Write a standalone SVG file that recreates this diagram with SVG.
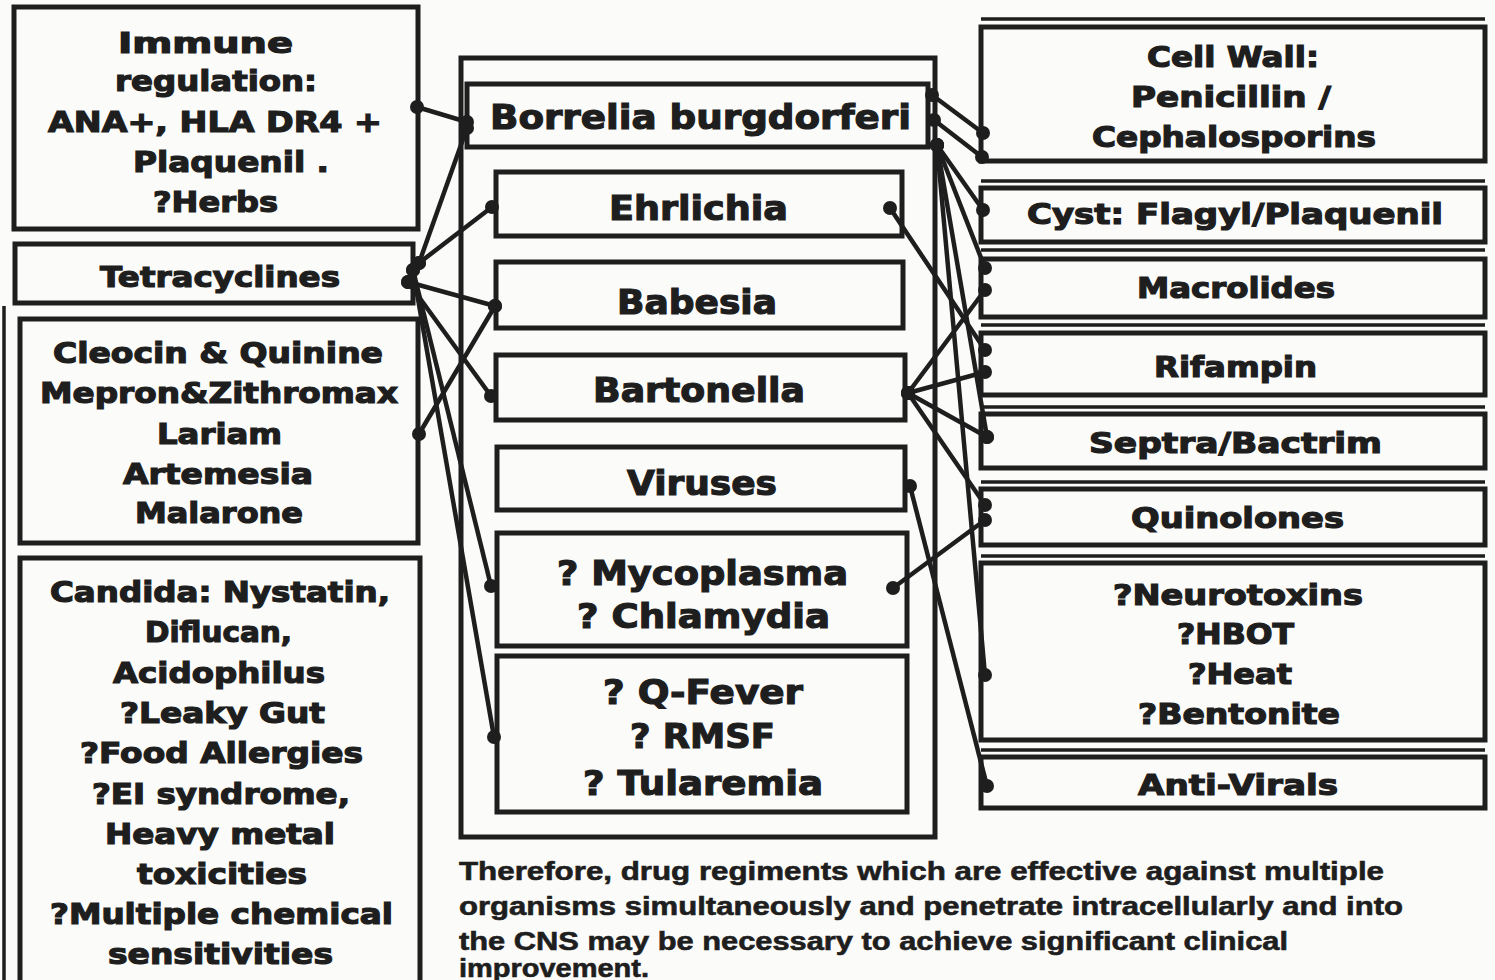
<svg xmlns="http://www.w3.org/2000/svg" width="1495" height="980" viewBox="0 0 1495 980">
<style>
.bg{fill:#fbfbf9}
.box{fill:none;stroke:#1e1e1e;stroke-width:5}
.sh{stroke:#1e1e1e;stroke-width:3.5}
.t{font-family:"DejaVu Sans","Liberation Sans",sans-serif;font-weight:bold;font-size:28px;fill:#1e1e1e;stroke:#1e1e1e;stroke-width:1.2}
.c{font-size:34px}
.p{font-family:"Liberation Sans",Arial,sans-serif;font-weight:bold;font-size:25px;fill:#1e1e1e;stroke:#1e1e1e;stroke-width:0.6}
.cn{stroke:#1e1e1e;stroke-width:4.5;fill:none;marker-start:url(#dot);marker-end:url(#dot)}
</style>
<defs>
<marker id="dot" markerUnits="userSpaceOnUse" markerWidth="16" markerHeight="16" refX="8" refY="8" viewBox="0 0 16 16"><circle cx="8" cy="8" r="7" fill="#1e1e1e"/></marker>
</defs>
<rect class="bg" x="0" y="0" width="1495" height="980"/>
<line class="sh" x1="4" y1="306" x2="4" y2="980"/>

<!-- Left column -->
<g id="immune">
<rect class="box" x="14" y="7" width="404" height="222"/>
<text class="t" x="118" y="53" textLength="175" lengthAdjust="spacingAndGlyphs">Immune</text>
<text class="t" x="115" y="91" textLength="202" lengthAdjust="spacingAndGlyphs">regulation:</text>
<text class="t" x="48" y="132" textLength="334" lengthAdjust="spacingAndGlyphs">ANA+, HLA DR4 +</text>
<text class="t" x="133" y="172" textLength="196" lengthAdjust="spacingAndGlyphs">Plaquenil  .</text>
<text class="t" x="153" y="212" textLength="125" lengthAdjust="spacingAndGlyphs">?Herbs</text>
</g>
<g id="tetracyclines">
<rect class="box" x="15" y="244" width="398" height="59"/>
<text class="t" x="100" y="287" textLength="240" lengthAdjust="spacingAndGlyphs">Tetracyclines</text>
</g>
<g id="cleocin">
<rect class="box" x="20" y="319" width="398" height="224"/>
<text class="t" x="53" y="363" textLength="330" lengthAdjust="spacingAndGlyphs">Cleocin &amp; Quinine</text>
<text class="t" x="40" y="403" textLength="358" lengthAdjust="spacingAndGlyphs">Mepron&amp;Zithromax</text>
<text class="t" x="157" y="444" textLength="125" lengthAdjust="spacingAndGlyphs">Lariam</text>
<text class="t" x="123" y="484" textLength="190" lengthAdjust="spacingAndGlyphs">Artemesia</text>
<text class="t" x="135" y="523" textLength="168" lengthAdjust="spacingAndGlyphs">Malarone</text>
</g>
<g id="candida">
<rect class="box" x="20" y="558" width="400" height="450"/>
<text class="t" x="50" y="602" textLength="340" lengthAdjust="spacingAndGlyphs">Candida: Nystatin,</text>
<text class="t" x="145" y="642" textLength="147" lengthAdjust="spacingAndGlyphs">Diflucan,</text>
<text class="t" x="113" y="683" textLength="212" lengthAdjust="spacingAndGlyphs">Acidophilus</text>
<text class="t" x="120" y="723" textLength="205" lengthAdjust="spacingAndGlyphs">?Leaky Gut</text>
<text class="t" x="80" y="763" textLength="283" lengthAdjust="spacingAndGlyphs">?Food Allergies</text>
<text class="t" x="92" y="804" textLength="258" lengthAdjust="spacingAndGlyphs">?EI syndrome,</text>
<text class="t" x="105" y="844" textLength="230" lengthAdjust="spacingAndGlyphs">Heavy metal</text>
<text class="t" x="137" y="884" textLength="170" lengthAdjust="spacingAndGlyphs">toxicities</text>
<text class="t" x="50" y="924" textLength="343" lengthAdjust="spacingAndGlyphs">?Multiple chemical</text>
<text class="t" x="108" y="964" textLength="225" lengthAdjust="spacingAndGlyphs">sensitivities</text>
</g>

<!-- Center column -->
<g id="organisms-frame">
<rect class="box" x="461" y="58" width="474" height="779"/>
</g>
<g id="borrelia">
<rect class="box" x="467" y="84" width="461" height="63"/>
<text class="t c" x="490" y="129" textLength="421" lengthAdjust="spacingAndGlyphs">Borrelia burgdorferi</text>
</g>
<g id="ehrlichia">
<rect class="box" x="496" y="172" width="406" height="64"/>
<text class="t c" x="609" y="220" textLength="179" lengthAdjust="spacingAndGlyphs">Ehrlichia</text>
</g>
<g id="babesia">
<rect class="box" x="496" y="262" width="407" height="66"/>
<text class="t c" x="617" y="314" textLength="160" lengthAdjust="spacingAndGlyphs">Babesia</text>
</g>
<g id="bartonella">
<rect class="box" x="496" y="355" width="409" height="65"/>
<text class="t c" x="593" y="402" textLength="212" lengthAdjust="spacingAndGlyphs">Bartonella</text>
</g>
<g id="viruses">
<rect class="box" x="497" y="447" width="408" height="63"/>
<text class="t c" x="627" y="495" textLength="150" lengthAdjust="spacingAndGlyphs">Viruses</text>
</g>
<g id="mycoplasma">
<rect class="box" x="497" y="533" width="410" height="113"/>
<text class="t c" x="557" y="585" textLength="291" lengthAdjust="spacingAndGlyphs">? Mycoplasma</text>
<text class="t c" x="577" y="628" textLength="253" lengthAdjust="spacingAndGlyphs">? Chlamydia</text>
</g>
<g id="qfever">
<rect class="box" x="497" y="656" width="410" height="156"/>
<text class="t c" x="603" y="704" textLength="200" lengthAdjust="spacingAndGlyphs">? Q-Fever</text>
<text class="t c" x="630" y="748" textLength="145" lengthAdjust="spacingAndGlyphs">? RMSF</text>
<text class="t c" x="583" y="795" textLength="240" lengthAdjust="spacingAndGlyphs">? Tularemia</text>
</g>

<!-- Right column -->
<g id="cellwall">
<line class="sh" x1="981" y1="19" x2="1485" y2="19"/>
<rect class="box" x="981" y="27" width="504" height="134"/>
<text class="t" x="1147" y="67" textLength="172" lengthAdjust="spacingAndGlyphs">Cell Wall:</text>
<text class="t" x="1131" y="107" textLength="200" lengthAdjust="spacingAndGlyphs">Penicillin /</text>
<text class="t" x="1092" y="147" textLength="284" lengthAdjust="spacingAndGlyphs">Cephalosporins</text>
</g>
<g id="cyst">
<line class="sh" x1="981" y1="181" x2="1485" y2="181"/>
<rect class="box" x="981" y="188" width="504" height="54"/>
<text class="t" x="1027" y="224" textLength="416" lengthAdjust="spacingAndGlyphs">Cyst: Flagyl/Plaquenil</text>
</g>
<g id="macrolides">
<line class="sh" x1="981" y1="250" x2="1485" y2="250"/>
<rect class="box" x="981" y="259" width="504" height="58"/>
<text class="t" x="1137" y="298" textLength="198" lengthAdjust="spacingAndGlyphs">Macrolides</text>
</g>
<g id="rifampin">
<line class="sh" x1="981" y1="325" x2="1485" y2="325"/>
<rect class="box" x="981" y="333" width="504" height="62"/>
<text class="t" x="1154" y="377" textLength="163" lengthAdjust="spacingAndGlyphs">Rifampin</text>
</g>
<g id="septra">
<line class="sh" x1="981" y1="407" x2="1485" y2="407"/>
<rect class="box" x="981" y="414" width="504" height="54"/>
<text class="t" x="1089" y="453" textLength="293" lengthAdjust="spacingAndGlyphs">Septra/Bactrim</text>
</g>
<g id="quinolones">
<line class="sh" x1="981" y1="482" x2="1485" y2="482"/>
<rect class="box" x="981" y="489" width="504" height="56"/>
<text class="t" x="1131" y="528" textLength="213" lengthAdjust="spacingAndGlyphs">Quinolones</text>
</g>
<g id="neurotoxins">
<line class="sh" x1="981" y1="556" x2="1485" y2="556"/>
<rect class="box" x="981" y="563" width="504" height="177"/>
<text class="t" x="1113" y="605" textLength="250" lengthAdjust="spacingAndGlyphs">?Neurotoxins</text>
<text class="t" x="1177" y="644" textLength="117" lengthAdjust="spacingAndGlyphs">?HBOT</text>
<text class="t" x="1188" y="684" textLength="104" lengthAdjust="spacingAndGlyphs">?Heat</text>
<text class="t" x="1138" y="724" textLength="202" lengthAdjust="spacingAndGlyphs">?Bentonite</text>
</g>
<g id="antivirals">
<line class="sh" x1="981" y1="750" x2="1485" y2="750"/>
<rect class="box" x="981" y="757" width="504" height="51"/>
<text class="t" x="1138" y="795" textLength="200" lengthAdjust="spacingAndGlyphs">Anti-Virals</text>
</g>

<!-- Connectors -->
<g id="connectors">
<path class="cn" d="M417,107 L467,122"/>
<path class="cn" d="M419,263 L467,128"/>
<path class="cn" d="M419,263 L492,207"/>
<path class="cn" d="M408,282 L495,306"/>
<path class="cn" d="M408,282 L491,396"/>
<path class="cn" d="M413,270 L491,586"/>
<path class="cn" d="M413,270 L494,737"/>
<path class="cn" d="M419,434 L495,306"/>
<path class="cn" d="M932,95 L983,133"/>
<path class="cn" d="M934,120 L982,157"/>
<path class="cn" d="M937,145 L983,210"/>
<path class="cn" d="M937,145 L985,268"/>
<path class="cn" d="M937,145 L987,437"/>
<path class="cn" d="M937,145 L985,675"/>
<path class="cn" d="M890,208 L985,350"/>
<path class="cn" d="M908,393 L985,290"/>
<path class="cn" d="M908,393 L985,372"/>
<path class="cn" d="M908,393 L987,437"/>
<path class="cn" d="M908,393 L985,505"/>
<path class="cn" d="M910,486 L987,786"/>
<path class="cn" d="M893,588 L985,520"/>
</g>

<!-- Footnote -->
<g id="footnote">
<text class="p" x="459" y="880" textLength="925" lengthAdjust="spacingAndGlyphs">Therefore, drug regiments which are effective against multiple</text>
<text class="p" x="459" y="915" textLength="944" lengthAdjust="spacingAndGlyphs">organisms simultaneously and penetrate intracellularly and into</text>
<text class="p" x="459" y="950" textLength="829" lengthAdjust="spacingAndGlyphs">the CNS may be necessary to achieve significant clinical</text>
<text class="p" x="459" y="977" textLength="190" lengthAdjust="spacingAndGlyphs">improvement.</text>
</g>
</svg>
